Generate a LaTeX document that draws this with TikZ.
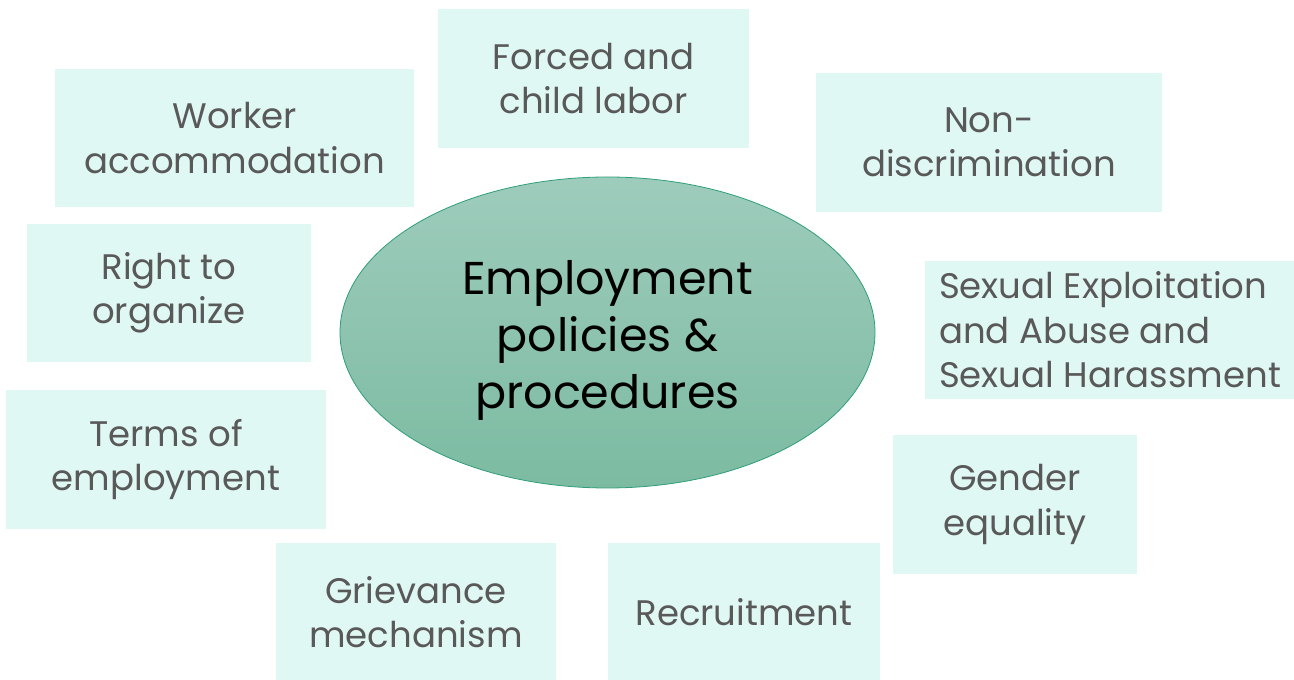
\documentclass[tikz,border=0pt]{standalone}
\usepackage{fontspec}
\setmainfont{Poppins}
\usetikzlibrary{shapes.geometric}
\definecolor{boxfill}{HTML}{E0F8F3}
\definecolor{boxtext}{HTML}{595959}
\definecolor{elltop}{HTML}{9ECCBC}
\definecolor{ellbot}{HTML}{7CBBA2}
\definecolor{elldraw}{HTML}{2E9E7A}
\tikzset{
  topic/.style={fill=boxfill, draw=none, text=boxtext, align=center, inner sep=0pt,
    font=\fontsize{35.5}{44.5}\selectfont},
}
\begin{document}
\begin{tikzpicture}[x=1pt,y=1pt]
\useasboundingbox (0,0) rectangle (1294,680);
% boxes: centre (x, 680-y), width, height
\node[topic, minimum width=311, minimum height=139] (forced) at (593.5,601.5) {Forced and\\child labor};
\node[topic, minimum width=359, minimum height=138] (worker) at (234.5,542) {Worker\\accommodation};
\node[topic, minimum width=346, minimum height=139] (nondisc) at (989,537.5) {Non-\\discrimination};
\node[topic, minimum width=284, minimum height=138] (organize) at (169,387) {Right to\\organize};
\node[topic, minimum width=370, minimum height=138, align=left] (sexual) at (1110,350) {Sexual Exploitation\\and Abuse and\\Sexual Harassment};
\node[topic, minimum width=320, minimum height=139] (terms) at (166,220.5) {Terms of\\employment};
\node[topic, minimum width=244, minimum height=139] (gender) at (1015,175.5) {Gender\\equality};
\node[topic, minimum width=280, minimum height=138] (grievance) at (416,68) {Grievance\\mechanism};
\node[topic, minimum width=272, minimum height=138] (recruit) at (744,68) {Recruitment};
% central ellipse
\node[ellipse, minimum width=535, minimum height=311, inner sep=0pt,
  top color=elltop, bottom color=ellbot, draw=elldraw, line width=0.8pt] (core) at (607.5,347.5) {};
\node[align=center, text=black, inner sep=0pt, font=\fontsize{46}{57}\selectfont]
  (coretext) at ([yshift=-8pt]core.center) {Employment\\policies \&\\procedures};
\end{tikzpicture}
\end{document}
